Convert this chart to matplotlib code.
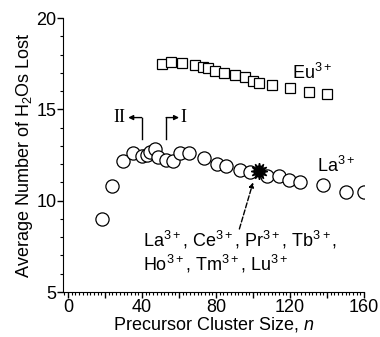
import matplotlib
matplotlib.use("Agg")
import matplotlib.pyplot as plt
from matplotlib.ticker import MultipleLocator, FuncFormatter

plt.rcParams['font.family'] = ['Liberation Sans', 'DejaVu Sans']
plt.rcParams['mathtext.fontset'] = 'custom'
plt.rcParams['mathtext.rm'] = 'Liberation Sans'
plt.rcParams['mathtext.it'] = 'Liberation Sans:italic'

# La3+ series (open circles)
la_n = [18.5, 23.6, 29.7, 35.0, 39.8, 42.5, 44.3, 47.0, 48.8, 53.0, 56.9, 60.7,
        65.6, 73.7, 80.4, 85.4, 93.0, 98.4, 107.6, 114.2, 119.6, 125.4, 137.7,
        150.3, 160.0]
la_h2o = [9.02, 10.82, 12.15, 12.6, 12.42, 12.48, 12.66, 12.82, 12.39, 12.24,
          12.15, 12.6, 12.6, 12.33, 12.02, 11.91, 11.69, 11.58, 11.37, 11.37,
          11.15, 11.0, 10.87, 10.5, 10.5]

# Eu3+ series (open squares)
eu_n = [50.8, 55.7, 61.6, 68.6, 72.8, 75.5, 79.6, 84.5, 90.4, 95.7, 100.2,
        103.4, 110.3, 120.2, 130.1, 140.0]
eu_h2o = [17.47, 17.6, 17.56, 17.43, 17.3, 17.25, 17.12, 17.01, 16.87, 16.76,
          16.56, 16.47, 16.34, 16.16, 15.94, 15.85]

# other lanthanides at n = 103 (filled star)
star_n = [103.4]
star_h2o = [11.6]

fig = plt.figure(figsize=(3.8, 3.37), dpi=100)
ax = fig.add_axes([0.167, 0.1335, 0.791, 0.813])

ax.plot(la_n, la_h2o, 'o', mfc='white', mec='black', ms=9.5, mew=0.9)
ax.plot(eu_n, eu_h2o, 's', mfc='white', mec='black', ms=7.5, mew=0.9)
ax.plot(star_n, star_h2o, marker=(12, 1, 0), color='black', ms=12, ls='none')

ax.set_xlim(-2.5, 160)
ax.set_ylim(5, 20)
ax.spines['top'].set_visible(False)
ax.spines['right'].set_visible(False)

ax.xaxis.set_major_locator(MultipleLocator(20))
ax.xaxis.set_minor_locator(MultipleLocator(2))
ax.xaxis.set_major_formatter(FuncFormatter(lambda v, p: '%d' % v if v % 40 == 0 else ''))
ax.yaxis.set_major_locator(MultipleLocator(5))
ax.yaxis.set_minor_locator(MultipleLocator(1))
ax.tick_params(which='major', length=4, width=1, labelsize=13, pad=1)
ax.tick_params(which='minor', length=2.5, width=0.8)

ax.set_xlabel('Precursor Cluster Size, $n$', fontsize=13, labelpad=-1)
ax.set_ylabel('Average Number of H$_2$Os Lost', fontsize=13, labelpad=1)

# series labels
ax.text(132, 17.0, 'Eu$^{3+}$', fontsize=13, ha='center', va='center')
ax.text(145, 11.9, 'La$^{3+}$', fontsize=13, ha='center', va='center')

# II / I bracket arrows
ax.annotate('', xy=(32.5, 14.55), xytext=(39.8, 14.55),
            arrowprops=dict(arrowstyle='-|>', color='black', lw=1, mutation_scale=7,
                            shrinkA=0, shrinkB=0))
ax.plot([39.8, 39.8], [13.4, 14.55], color='black', lw=1)
ax.text(28, 14.55, 'II', fontsize=13, family='Liberation Serif', ha='center', va='center')
ax.annotate('', xy=(60, 14.55), xytext=(53, 14.55),
            arrowprops=dict(arrowstyle='-|>', color='black', lw=1, mutation_scale=7,
                            shrinkA=0, shrinkB=0))
ax.plot([53, 53], [13.4, 14.55], color='black', lw=1)
ax.text(62.5, 14.55, 'I', fontsize=13, family='Liberation Serif', ha='center', va='center')

# dashed pointer to the star
ax.annotate('', xy=(100, 11.0), xytext=(92.6, 8.45),
            arrowprops=dict(arrowstyle='-|>', color='black', lw=1, ls='--',
                            mutation_scale=7, shrinkA=0, shrinkB=0))
ax.text(40.5, 7.85, 'La$^{3+}$, Ce$^{3+}$, Pr$^{3+}$, Tb$^{3+}$,', fontsize=13,
        ha='left', va='center')
ax.text(40.5, 6.55, 'Ho$^{3+}$, Tm$^{3+}$, Lu$^{3+}$', fontsize=13,
        ha='left', va='center')

fig.savefig('out.png', dpi=100)
